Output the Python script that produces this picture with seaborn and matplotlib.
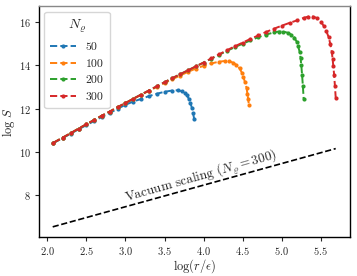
import numpy as np
import pandas as pd
import matplotlib
matplotlib.use('Agg')
import matplotlib.pyplot as plt
import seaborn as sns

# =============================================================================
# Data
# =============================================================================

x_50 = [2.08, 2.2, 2.3, 2.4, 2.5, 2.6, 2.7, 2.8, 2.9, 3.0, 3.1, 3.2, 3.3, 3.4,
        3.5, 3.6, 3.67, 3.72, 3.76, 3.79, 3.81, 3.83, 3.85, 3.865, 3.88]
s_50 = [10.42, 10.65, 10.85, 11.05, 11.24, 11.43, 11.62, 11.8, 12.0, 12.18,
        12.33, 12.45, 12.58, 12.69, 12.78, 12.84, 12.85, 12.81, 12.73, 12.61,
        12.46, 12.28, 12.04, 11.8, 11.52]

x_100 = [2.08, 2.2, 2.3, 2.4, 2.5, 2.6, 2.7, 2.8, 2.9, 3.0, 3.1, 3.2, 3.3,
         3.4, 3.5, 3.6, 3.7, 3.8, 3.9, 4.0, 4.1, 4.2, 4.27, 4.33, 4.38, 4.42,
         4.46, 4.49, 4.51, 4.53, 4.55, 4.56, 4.57, 4.58]
s_100 = [10.43, 10.67, 10.87, 11.08, 11.28, 11.48, 11.68, 11.87, 12.07, 12.26,
         12.45, 12.64, 12.82, 13.0, 13.18, 13.36, 13.53, 13.7, 13.85, 13.98,
         14.09, 14.17, 14.2, 14.19, 14.12, 14.02, 13.86, 13.66, 13.45, 13.22,
         12.95, 12.7, 12.45, 12.16]

x_200 = [2.08, 2.2, 2.3, 2.4, 2.5, 2.6, 2.7, 2.8, 2.9, 3.0, 3.1, 3.2, 3.3,
         3.4, 3.5, 3.6, 3.7, 3.8, 3.9, 4.0, 4.1, 4.2, 4.3, 4.4, 4.5, 4.6, 4.7,
         4.8, 4.9, 4.96, 5.02, 5.08, 5.12, 5.16, 5.19, 5.21, 5.23, 5.24, 5.25,
         5.26, 5.27, 5.28]
s_200 = [10.43, 10.67, 10.87, 11.08, 11.28, 11.48, 11.68, 11.87, 12.07, 12.26,
         12.46, 12.65, 12.84, 13.03, 13.22, 13.41, 13.59, 13.77, 13.95, 14.13,
         14.31, 14.49, 14.67, 14.84, 15.0, 15.15, 15.3, 15.42, 15.52, 15.56,
         15.56, 15.5, 15.42, 15.28, 15.1, 14.88, 14.6, 14.35, 14.0, 13.55,
         13.05, 12.46]

x_300 = [2.08, 2.2, 2.3, 2.4, 2.5, 2.6, 2.7, 2.8, 2.9, 3.0, 3.1, 3.2, 3.3,
         3.4, 3.5, 3.6, 3.7, 3.8, 3.9, 4.0, 4.1, 4.2, 4.3, 4.4, 4.5, 4.6, 4.7,
         4.8, 4.9, 5.0, 5.1, 5.2, 5.28, 5.34, 5.4, 5.45, 5.5, 5.54, 5.57, 5.6,
         5.62, 5.64, 5.65, 5.66, 5.67, 5.68, 5.69]
s_300 = [10.43, 10.67, 10.87, 11.08, 11.28, 11.48, 11.68, 11.87, 12.07, 12.26,
         12.46, 12.65, 12.84, 13.03, 13.22, 13.41, 13.59, 13.77, 13.95, 14.13,
         14.32, 14.51, 14.7, 14.88, 15.05, 15.22, 15.38, 15.54, 15.69, 15.83,
         15.96, 16.08, 16.19, 16.25, 16.25, 16.18, 16.02, 15.8, 15.58, 15.3,
         15.0, 14.62, 14.3, 13.95, 13.55, 13.05, 12.51]

vac_x = [2.07, 5.69]
vac_s = [6.55, 10.16]

labels = ['50', '100', '200', '300']
colors = ['#1f77b4', '#ff7f0e', '#2ca02c', '#d62728']

# =============================================================================
# Plot
# =============================================================================

sns.set_style('ticks')
plt.rcParams['font.family'] = 'serif'
plt.rcParams['font.serif'] = ['cmr10', 'DejaVu Serif']
plt.rcParams['mathtext.fontset'] = 'cm'
plt.rcParams['axes.formatter.use_mathtext'] = True

fig, ax = plt.subplots(figsize=(3.57, 2.76), dpi=100)
fig.subplots_adjust(left=0.108, right=0.98, bottom=0.14, top=0.978)

series = [(x_50, s_50), (x_100, s_100), (x_200, s_200), (x_300, s_300)]
for (xs, ss), lab, col in zip(series, labels, colors):
    df = pd.DataFrame({'x': xs, 's': ss})
    sns.lineplot(data=df, x='x', y='s', ax=ax, sort=False, color=col,
                 linestyle='--', marker='.', markersize=6, markeredgewidth=0,
                 linewidth=1.4, label=lab)

sns.lineplot(x=vac_x, y=vac_s, ax=ax, color='black', linestyle='--',
             linewidth=1.2)

ax.text(3.97, 8.85, r'Vacuum scaling ($N_\varrho = 300$)', fontsize=9.5,
        rotation=16, ha='center', va='center')

ax.set_xticks([2.0, 2.5, 3.0, 3.5, 4.0, 4.5, 5.0, 5.5])
ax.set_yticks([8, 10, 12, 14, 16])
ax.tick_params(labelsize=7.5, length=3, width=0.8, pad=2.5)
ax.set_xlabel(r'$\log(r/\epsilon)$', fontsize=9, labelpad=0.5)
ax.set_ylabel(r'$\log\, S$', fontsize=9, labelpad=1)

for sp in ax.spines.values():
    sp.set_visible(True)
    sp.set_color('black')
    sp.set_linewidth(1.0)
ax.spines['top'].set_color('#888888')

leg = ax.legend(title=r'$N_\varrho$', loc='upper left', fontsize=8.5,
                title_fontsize=10, handlelength=2.2, borderpad=0.5,
                labelspacing=0.55)

plt.savefig('out.png', dpi=100)
